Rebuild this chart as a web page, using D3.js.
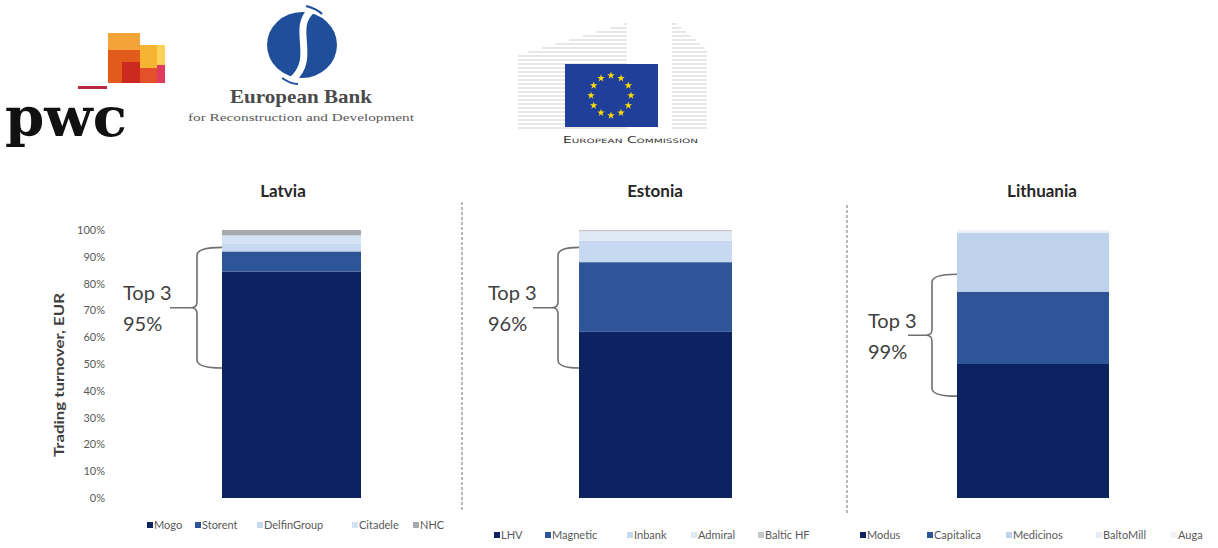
<!DOCTYPE html>
<html>
<head>
<meta charset="utf-8">
<script src="https://cdn.jsdelivr.net/npm/d3@7/dist/d3.min.js"></script>
<style>
  html, body { margin: 0; padding: 0; background: #fff; }
  svg { display: block; font-family: Lato, "Open Sans", sans-serif; }
</style>
</head>
<body>
<script>
// Market shares (% of trading turnover) by lender, per country
const countries = ["Latvia", "Estonia", "Lithuania"];
const latviaCompanies = ["Mogo", "Storent", "DelfinGroup", "Citadele", "NHC"];
const latviaShares = [84.5, 7.5, 3, 3, 2];
const estoniaCompanies = ["LHV", "Magnetic", "Inbank", "Admiral", "Baltic HF"];
const estoniaShares = [62, 26, 8, 3.5, 0.5];
const lithuaniaCompanies = ["Modus", "Capitalica", "Medicinos", "BaltoMill", "Auga"];
const lithuaniaShares = [50, 27, 22, 0.5, 0.5];
const yTicks = [0, 10, 20, 30, 40, 50, 60, 70, 80, 90, 100];
const yAxisTitle = "Trading turnover, EUR";

const W = 1218, H = 548;
const svg = d3.select("body").append("svg").attr("width", W).attr("height", H);

const y = d3.scaleLinear().domain([0, 100]).range([498, 230]);

// Layout of the three panels
const panels = [
  { name: countries[0], companies: latviaCompanies, shares: latviaShares,
    bar: [222, 361], titleX: 283,
    colors: ["#0c2261", "#2e5597", "#c6d9f0", "#d3e2f4", "#a6a9ad"],
    brace: { vx: 197, tail: 170, top: 93.5, bot: 48.5 },
    label: { x: 123, y: 300 },
    legendY: 525, legendX: [147, 195, 257, 352, 413] },
  { name: countries[1], companies: estoniaCompanies, shares: estoniaShares,
    bar: [579, 732], titleX: 655,
    colors: ["#0c2261", "#2e5597", "#c6d9f0", "#dfe9f5", "#c4c8ce"],
    brace: { vx: 558, tail: 533, top: 93.5, bot: 48.5 },
    label: { x: 488, y: 300 },
    legendY: 535, legendX: [494, 545, 627, 691, 758] },
  { name: countries[2], companies: lithuaniaCompanies, shares: lithuaniaShares,
    bar: [957, 1109], titleX: 1042,
    colors: ["#0c2261", "#2e5597", "#bfd2eb", "#e6edf7", "#eef1f5"],
    brace: { vx: 932, tail: 908, top: 83.5, bot: 38 },
    label: { x: 868, y: 328 },
    legendY: 535, legendX: [860, 927, 1006, 1096, 1171] }
];

panels.forEach(p => {
  const row = { country: p.name };
  p.companies.forEach((c, i) => row[c] = p.shares[i]);
  const series = d3.stack().keys(p.companies)([row]);
  const x = d3.scaleBand().domain([p.name]).range(p.bar).padding(0);
  const g = svg.append("g");

  // Stacked bar segments
  g.selectAll("rect.seg").data(series).join("rect")
    .attr("class", "seg")
    .attr("x", d => x(d[0].data.country))
    .attr("width", x.bandwidth())
    .attr("y", d => y(d[0][1]))
    .attr("height", d => y(d[0][0]) - y(d[0][1]))
    .attr("fill", (d, i) => p.colors[i]);

  // Country title
  g.append("text").attr("x", p.titleX).attr("y", 197)
    .attr("text-anchor", "middle").attr("font-size", 17).attr("font-weight", 700)
    .attr("fill", "#262626").text(p.name);

  // Curly brace spanning the top three lenders
  const xb = p.bar[0], vx = p.brace.vx, yt = y(p.brace.top), yb = y(p.brace.bot);
  const ym = (yt + yb) / 2;
  const path = d3.path();
  path.moveTo(xb, yt);
  path.quadraticCurveTo(vx, yt, vx, yt + 8);
  path.lineTo(vx, ym - 6);
  path.quadraticCurveTo(vx, ym, vx - 6, ym);
  path.quadraticCurveTo(vx, ym, vx, ym + 6);
  path.lineTo(vx, yb - 8);
  path.quadraticCurveTo(vx, yb, xb, yb);
  path.moveTo(p.brace.tail, ym);
  path.lineTo(vx - 6, ym);
  g.append("path").attr("d", path.toString())
    .attr("fill", "none").attr("stroke", "#6f6f6f").attr("stroke-width", 1.6);

  const top3 = d3.sum(p.shares.slice(0, 3));
  const lbl = g.append("text").attr("x", p.label.x).attr("y", p.label.y)
    .attr("font-size", 20).attr("fill", "#404040");
  lbl.append("tspan").attr("x", p.label.x).text("Top 3");
  lbl.append("tspan").attr("x", p.label.x).attr("dy", 31).text(Math.round(top3) + "%");

  // Legend
  const lg = g.selectAll("g.leg").data(p.companies).join("g")
    .attr("class", "leg")
    .attr("transform", (d, i) => `translate(${p.legendX[i]},${p.legendY})`);
  lg.append("rect").attr("x", 0).attr("y", -3).attr("width", 6).attr("height", 6)
    .attr("fill", (d, i) => p.colors[i]);
  lg.append("text").attr("x", 7).attr("y", 0).attr("dy", "0.35em")
    .attr("font-size", 11).attr("fill", "#595959").text(d => d);
});

// Y axis (Latvia panel only)
const axis = d3.axisLeft(y).tickValues(yTicks).tickFormat(d => d + "%").tickSize(0).tickPadding(0);
const ag = svg.append("g").attr("transform", "translate(105,0)").call(axis);
ag.select(".domain").remove();
ag.selectAll("text").attr("font-size", 11).attr("fill", "#595959")
  .attr("font-family", "Lato, sans-serif");

svg.append("text").attr("transform", "translate(64,375) rotate(-90)")
  .attr("text-anchor", "middle").attr("font-size", 13).attr("font-weight", 700)
  .attr("textLength", 164).attr("lengthAdjust", "spacingAndGlyphs")
  .attr("fill", "#404040").text(yAxisTitle);

// Dashed separators between panels
[[462, 202, 512], [847, 205, 515]].forEach(([sx, y1, y2]) => {
  svg.append("line").attr("x1", sx).attr("x2", sx).attr("y1", y1).attr("y2", y2)
    .attr("stroke", "#8a8a8a").attr("stroke-width", 1.2).attr("stroke-dasharray", "3,2");
});

// ---- Header logos ----
// PwC
const pwc = svg.append("g");
[[108, 33, 32, 18, "#f4a23a"], [108, 50, 32, 33, "#e25a1c"], [122, 62, 18, 21, "#cc2a1e"],
 [140, 45, 17, 24, "#f7b431"], [140, 68, 17, 15, "#e4502a"], [157, 45, 8, 20, "#fbd15a"],
 [157, 65, 8, 18, "#e03a5c"]].forEach(([rx, ry, rw, rh, c]) => {
  pwc.append("rect").attr("x", rx).attr("y", ry).attr("width", rw).attr("height", rh).attr("fill", c);
});
pwc.append("rect").attr("x", 78).attr("y", 86).attr("width", 29).attr("height", 3).attr("fill", "#b8283e");
pwc.append("text").attr("x", 5).attr("y", 136).attr("font-family", "DejaVu Serif, serif")
  .attr("font-weight", 700).attr("font-size", 54).attr("textLength", 122).attr("lengthAdjust", "spacingAndGlyphs")
  .attr("fill", "#111").text("pwc");

// EBRD
const eb = svg.append("g");
eb.append("ellipse").attr("cx", 302).attr("cy", 45).attr("rx", 35).attr("ry", 33).attr("fill", "#1f4f9b");
eb.append("path").attr("d", "M312,10 C290,28 318,58 292,80").attr("fill", "none")
  .attr("stroke", "#fff").attr("stroke-width", 7);
eb.append("path").attr("d", "M306,6 C314,8 318,10 322,14 M282,78 C288,82 292,84 298,84").attr("fill", "none")
  .attr("stroke", "#1f4f9b").attr("stroke-width", 2);
eb.append("text").attr("x", 230).attr("y", 103).attr("textLength", 142).attr("lengthAdjust", "spacingAndGlyphs")
  .attr("font-family", "Liberation Serif, serif").attr("font-weight", 700).attr("font-size", 19)
  .attr("fill", "#4a4a4a").text("European Bank");
eb.append("text").attr("x", 188).attr("y", 121).attr("textLength", 226).attr("lengthAdjust", "spacingAndGlyphs")
  .attr("font-family", "Liberation Serif, serif").attr("font-size", 10)
  .attr("fill", "#5a5a5a").text("for Reconstruction and Development");

// European Commission
const ec = svg.append("g");
for (let ly = 24; ly <= 130; ly += 4) {
  const edge = 518 + Math.max(0, (55 - ly)) * 109 / 32;
  if (edge < 627) ec.append("line").attr("x1", edge).attr("x2", 627).attr("y1", ly).attr("y2", ly)
    .attr("stroke", "#cfcfcf").attr("stroke-width", 1);
  const redge = 672 + Math.min(35, Math.max(0, (ly - 20)) * 35 / 30);
  ec.append("line").attr("x1", 672).attr("x2", ly >= 50 ? 707 : redge).attr("y1", ly).attr("y2", ly)
    .attr("stroke", "#cfcfcf").attr("stroke-width", 1);
}
ec.append("rect").attr("x", 565).attr("y", 64).attr("width", 93).attr("height", 63).attr("fill", "#1f3f9a");
const star = d3.symbol().type(d3.symbolStar).size(18);
d3.range(12).forEach(k => {
  const a = k * Math.PI / 6;
  ec.append("path").attr("d", star())
    .attr("transform", `translate(${611 + 20 * Math.sin(a)},${95.5 - 20 * Math.cos(a)})`)
    .attr("fill", "#ffdd00");
});
ec.append("text").attr("x", 563).attr("y", 143).attr("textLength", 135).attr("lengthAdjust", "spacingAndGlyphs")
  .attr("font-family", "DejaVu Sans, sans-serif").attr("font-size", 8).attr("font-variant", "small-caps")
  .attr("fill", "#333").text("European Commission");
</script>
</body>
</html>
